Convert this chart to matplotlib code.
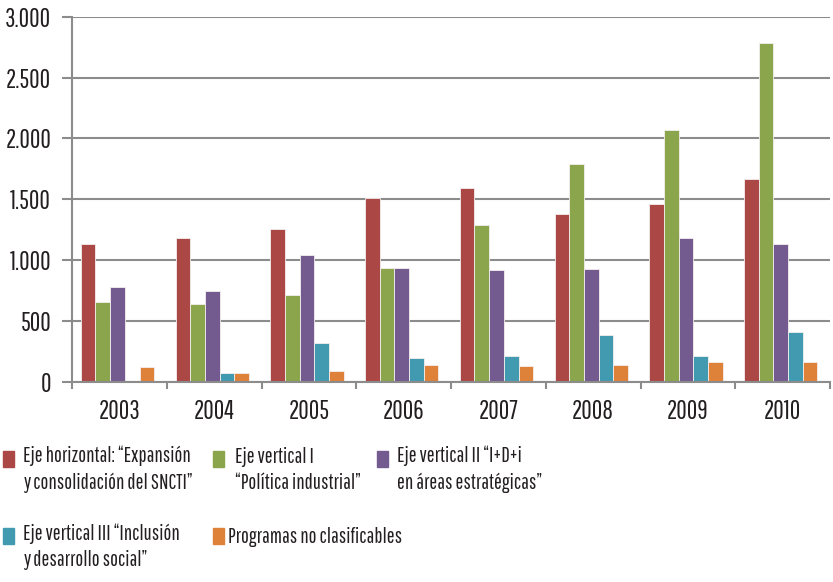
import matplotlib
matplotlib.use("Agg")
import matplotlib.pyplot as plt
import numpy as np
from matplotlib.patches import Rectangle
from matplotlib.ticker import FuncFormatter, MultipleLocator

plt.rcParams["font.family"] = ["Pathway Gothic One", "DejaVu Sans"]

years = ["2003", "2004", "2005", "2006", "2007", "2008", "2009", "2010"]
eje_horizontal = [1130, 1186, 1260, 1512, 1595, 1380, 1465, 1669]
eje_vertical_1 = [655, 644, 715, 934, 1292, 1790, 2070, 2785]
eje_vertical_2 = [778, 751, 1041, 934, 921, 932, 1185, 1136]
eje_vertical_3 = [0, 77, 318, 197, 214, 385, 214, 410]
no_clasificables = [126, 77, 88, 137, 132, 143, 168, 168]

series = [eje_horizontal, eje_vertical_1, eje_vertical_2, eje_vertical_3, no_clasificables]
labels = [
    "Eje horizontal: \u201cExpansi\u00f3n\ny consolidaci\u00f3n del SNCTI\u201d",
    "Eje vertical I\n\u201cPol\u00edtica industrial\u201d",
    "Eje vertical II \u201cI+D+i\nen \u00e1reas estrat\u00e9gicas\u201d",
    "Eje vertical III \u201cInclusi\u00f3n\ny desarrollo social\u201d",
    "Programas no clasificables",
]
colors = ["#AB4745", "#8BA54C", "#735A8F", "#419AB0", "#DE823A"]

W, H = 833, 582
fig = plt.figure(figsize=(W / 100, H / 100), dpi=100)
ax = fig.add_axes([72 / W, 1 - 382 / H, 758 / W, (382 - 16.7) / H])

x = np.arange(len(years))
width = 0.155
for i, (vals, c) in enumerate(zip(series, colors)):
    ax.bar(x + width * (i - 2) - 0.02, vals, width, color=c,
           edgecolor="#f4eeee", linewidth=0.6, zorder=3)

grid_c = "#8c8c8c"
text_c = "#231f20"
ax.set_xlim(-0.5, len(years) - 0.5)
ax.set_ylim(0, 3000)
ax.yaxis.set_major_locator(MultipleLocator(500))
ax.yaxis.set_major_formatter(FuncFormatter(lambda v, p: f"{v:,.0f}".replace(",", ".")))
ax.grid(axis="y", color=grid_c, linewidth=1.5, zorder=0)

ax.set_xticks(np.arange(len(years) + 1) - 0.5)
ax.set_xticklabels([])
ax.set_xticks(x, minor=True)
ax.set_xticklabels(years, minor=True)
ax.tick_params(axis="x", which="major", length=5, width=1.5, color=grid_c, direction="out")
ax.tick_params(axis="x", which="minor", length=0, pad=12, labelsize=18.5, labelcolor=text_c)
ax.tick_params(axis="y", length=7, width=1.5, color=grid_c, pad=8, labelsize=18.5,
               labelcolor=text_c)

for side in ["top", "right"]:
    ax.spines[side].set_visible(False)
for side in ["left", "bottom"]:
    ax.spines[side].set_color(grid_c)
    ax.spines[side].set_linewidth(1.5)
    ax.spines[side].set_zorder(4)

# legend laid out like the original: three columns, row-wise
line_step = 23
leg_pos = [(3, 23, 451), (213, 235, 451), (377, 397, 451), (3, 23, 528), (213, 228, 528)]
for (mx, tx, ty), lab, c in zip(leg_pos, labels, colors):
    fig.add_artist(Rectangle((mx / W, 1 - (ty + 16) / H), 11 / W, 16 / H,
                             transform=fig.transFigure, color=c))
    n_lines = lab.count("\n") + 1
    base = ty + 15 + (n_lines - 1) * line_step
    fig.text(tx / W, 1 - base / H, lab, fontsize=15, va="baseline", ha="left",
             color=text_c, linespacing=1.4)

fig.savefig("out.png", dpi=100)
